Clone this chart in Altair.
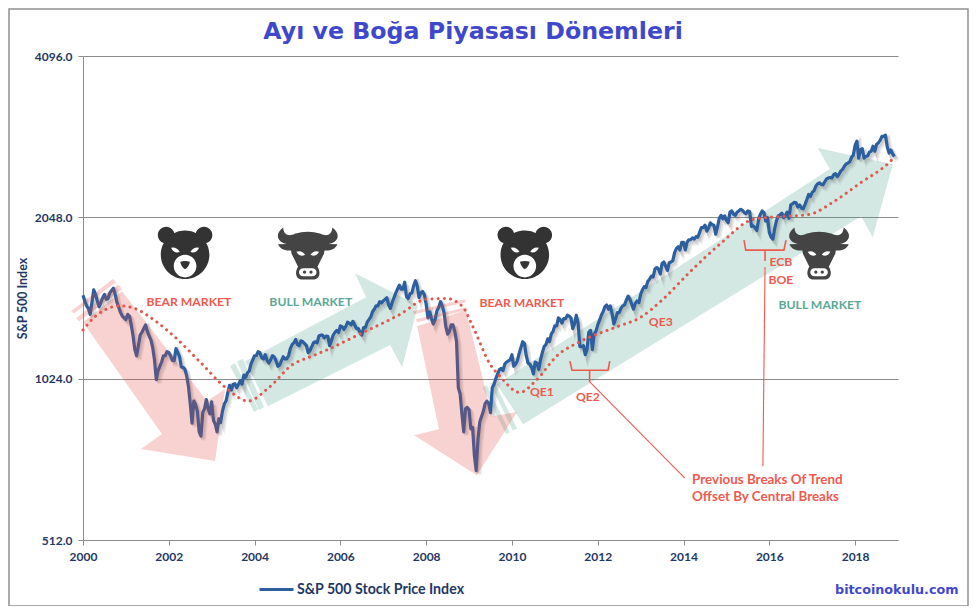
import altair as alt
import pandas as pd

TITLE = "Ayı ve Boğa Piyasası Dönemleri"
NAVY = "#1f3864"
RED = "#ee5a4f"
GREEN = "#5ba896"
BLUE = "#2d5f9f"
GRID = "#8c8c8c"
PURPLE = "#3f48cc"

# S&P 500, two readings a month, one list per year
p2000 = [1465,1430,1400,1385,1350,1420,1500,1470,1430,1395,1420,1450,1470,1440,1445,1480,1495,1510,1470,1420,1390,1360,1340,1330]
p2001 = [1320,1350,1340,1290,1230,1160,1130,1180,1235,1250,1270,1290,1255,1230,1210,1170,1110,1020,1060,1080,1100,1130,1130,1150]
p2002 = [1146,1130,1107,1106,1165,1147,1126,1077,1074,1067,1036,990,920,846,930,916,890,815,800,885,900,936,900,880]
p2003 = [927,856,842,815,862,848,890,917,930,963,995,975,1000,1002,985,1000,1015,1000,1040,1030,1050,1058,1090,1110]
p2004 = [1130,1131,1150,1145,1120,1115,1135,1108,1095,1110,1130,1125,1105,1080,1085,1105,1125,1115,1115,1130,1165,1185,1195,1212]
p2005 = [1185,1180,1205,1200,1190,1180,1145,1155,1175,1195,1200,1195,1230,1235,1235,1220,1230,1228,1180,1205,1235,1250,1260,1248]
p2006 = [1285,1280,1265,1280,1305,1300,1290,1310,1290,1270,1270,1250,1235,1275,1275,1305,1320,1335,1365,1380,1400,1400,1425,1418]
p2007 = [1430,1440,1450,1405,1385,1420,1450,1480,1505,1530,1505,1505,1550,1455,1445,1475,1480,1525,1560,1525,1450,1480,1490,1468]
p2008 = [1410,1330,1365,1325,1295,1320,1370,1390,1425,1400,1360,1280,1240,1255,1290,1290,1255,1200,985,960,880,815,900,905]
p2009 = [895,825,830,735,690,790,850,870,890,920,930,920,885,985,1000,1025,1045,1065,1070,1060,1090,1100,1105,1110]
p2010 = [1135,1080,1090,1105,1140,1170,1200,1190,1130,1095,1090,1075,1045,1100,1095,1065,1110,1145,1175,1185,1215,1200,1240,1255]
p2011 = [1285,1285,1330,1320,1300,1325,1325,1345,1340,1330,1270,1295,1345,1300,1175,1175,1180,1135,1160,1250,1260,1160,1240,1255]
p2012 = [1290,1315,1345,1365,1395,1405,1380,1400,1355,1295,1325,1360,1360,1385,1400,1405,1435,1460,1440,1410,1380,1415,1430,1420]
p2013 = [1470,1500,1520,1515,1555,1570,1590,1585,1640,1650,1640,1605,1680,1690,1660,1630,1685,1690,1700,1760,1790,1805,1780,1840]
p2014 = [1840,1780,1840,1860,1860,1875,1865,1885,1880,1920,1960,1960,1980,1930,1955,2000,1985,1980,1905,1965,2040,2065,2035,2060]
p2015 = [2020,2000,2095,2105,2075,2065,2095,2105,2120,2110,2090,2080,2105,2100,1970,1975,1960,1935,2030,2075,2105,2090,2015,2045]
p2016 = [1920,1880,1865,1950,2020,2060,2070,2085,2045,2065,2095,2040,2160,2170,2185,2180,2140,2160,2130,2125,2165,2210,2260,2240]
p2017 = [2280,2295,2340,2365,2375,2360,2355,2385,2415,2425,2430,2425,2460,2470,2440,2465,2500,2515,2550,2575,2585,2600,2650,2675]
p2018 = [2790,2840,2640,2740,2750,2640,2660,2665,2710,2720,2780,2720,2800,2820,2850,2900,2900,2915,2770,2700,2735,2690,2660]
price_years = [p2000,p2001,p2002,p2003,p2004,p2005,p2006,p2007,p2008,p2009,p2010,p2011,p2012,p2013,p2014,p2015,p2016,p2017,p2018]

ma_x = [2000.0,2000.25,2000.5,2000.86,2001.2,2001.7,2002.14,2002.73,2003.36,2003.85,2004.3,2004.9,2005.3,2005.7,2006.45,2007.39,2008.0,2008.47,2008.85,2009.09,2009.49,2009.72,2010.18,2010.58,2011.05,2011.58,2012.45,2012.98,2013.52,2014.15,2014.85,2015.62,2016.08,2016.94,2017.48,2018.11,2018.81,2018.93]
ma_y = [1262,1330,1375,1400,1385,1310,1225,1100,980,930,980,1090,1125,1160,1240,1350,1440,1445,1395,1280,1090,1035,965,1020,1130,1200,1280,1330,1440,1620,1825,2030,2050,2075,2185,2370,2600,2660]

# Arrow outlines (year, index level)
bear_arrows = {
    "bear1": [(2000.0,1305),(2000.91,1491),(2002.89,930),(2003.31,979),(2003.08,719),(2001.35,757),(2001.84,807)],
    "bear1s1": [(1999.72,1368),(2000.70,1571),(2000.77,1550),(1999.79,1357)],
    "bear1s2": [(1999.84,1328),(2000.82,1537),(2000.91,1504),(1999.91,1311)],
    "bear2": [(2007.79,1283),(2008.93,1375),(2009.53,871),(2010.12,887),(2009.18,676),(2007.72,803),(2008.30,824)],
    "bear2s1": [(2007.69,1368),(2008.90,1441),(2008.93,1422),(2007.72,1351)],
    "bear2s2": [(2007.76,1322),(2008.93,1392),(2008.95,1375),(2007.79,1305)],
}
bull_arrows = {
    "bull1": [(2003.78,1104),(2006.60,1453),(2006.34,1611),(2007.81,1404),(2007.44,1075),(2007.16,1183),(2004.31,910)],
    "bull1s1": [(2003.43,1080),(2003.54,1095),(2004.08,898),(2003.99,887)],
    "bull1s2": [(2003.59,1104),(2003.73,1114),(2004.22,906),(2004.10,895)],
    "bull2": [(2009.65,1000),(2017.41,2520),(2017.13,2758),(2018.88,2574),(2018.41,1881),(2018.14,2058),(2010.26,842)],
    "bull2s1": [(2009.32,987),(2009.41,996),(2009.95,813),(2009.86,807)],
    "bull2s2": [(2009.49,1004),(2009.58,1013),(2010.12,827),(2010.02,820)],
}
braces = {
    "qe2_brace": [(2011.35,1104),(2011.40,1062),(2012.24,1062),(2012.28,1104)],
    "qe2_stem": [(2011.81,1062),(2011.81,1009)],
    "ecb_brace": [(2015.41,1857),(2015.45,1779),(2016.34,1779),(2016.39,1857)],
    "ecb_stem": [(2015.90,1779),(2015.90,1697)],
}
leaders = {
    "qe2_lead": [(2011.82,1009),(2014.03,668)],
    "ecb_lead": [(2015.90,1654),(2015.85,703)],
}

red_center = [("BEAR MARKET",2002.47,1422),("BEAR MARKET",2010.23,1416),("QE1",2010.70,966),("QE2",2011.77,945),("QE3",2013.47,1305),("ECB",2016.27,1689),("BOE",2016.27,1564)]
green_center = [("BULL MARKET",2005.31,1422),("BULL MARKET",2017.18,1404)]
red_left = [("Previous Breaks Of Trend",2014.20,663),("Offset By Central Breaks",2014.20,615)]
bear_icons = [(2002.38,1756),(2010.30,1756)]
bull_icons = [(2005.24,1756),(2017.16,1756)]

def circ(cx, cy, r):
    k = 0.5523 * r
    return (f"M{cx-r},{cy}C{cx-r},{cy-k} {cx-k},{cy-r} {cx},{cy-r}"
            f"C{cx+k},{cy-r} {cx+r},{cy-k} {cx+r},{cy}"
            f"C{cx+r},{cy+k} {cx+k},{cy+r} {cx},{cy+r}"
            f"C{cx-k},{cy+r} {cx-r},{cy+k} {cx-r},{cy}Z")

BEAR_HEAD = circ(0, 0.06, 0.9) + circ(-0.7, -0.67, 0.31) + circ(0.7, -0.67, 0.31)
BEAR_WHITE = (circ(0, 0.48, 0.42)
              + "M-.52,-.2Q-.3,-.24-.2,-.04Q-.42,.02-.52,-.2Z"
              + "M.52,-.2Q.3,-.24.2,-.04Q.42,.02.52,-.2Z")
BEAR_NOSE = "M-.18,.32Q0,.26.18,.32Q.14,.52 0,.6Q-.14,.52-.18,.32Z"
BULL_HEAD = ("M-.91,-.95C-1.22,-.72-1.16,-.42-.78,-.34L-1.1,-.33C-1.0,-.12-.8,-.08-.62,-.1"
             "L-.6,.02L-.36,.5C-.5,.72-.44,.98-.2,.98L.2,.98C.44,.98 .5,.72 .36,.5L.6,.02L.62,-.1"
             "C.8,-.08 1.0,-.12 1.1,-.33L.78,-.34C1.16,-.42 1.22,-.72 .91,-.95"
             "C.9,-.68 .7,-.6 .48,-.72Q0,-.86-.48,-.72C-.7,-.6-.9,-.68-.91,-.95Z")
BULL_WHITE = ("M-.42,-.05Q-.22,-.12-.1,.06Q-.3,.16-.42,-.05Z"
              "M.42,-.05Q.22,-.12.1,.06Q.3,.16.42,-.05Z"
              "M-.16,.56L.16,.56C.38,.56 .38,.86 .16,.86L-.16,.86C-.38,.86-.38,.56-.16,.56Z")
BULL_NOSTRILS = circ(-.12, .7, .06) + circ(.12, .7, .06)

price_rows = []
for yi, vals in enumerate(price_years):
    for hi, v in enumerate(vals):
        price_rows.append({"x": 2000 + yi + hi / 24, "y": v, "series": "S&P 500 Stock Price Index"})
prices = pd.DataFrame(price_rows)
ma = pd.DataFrame({"x": ma_x, "y": ma_y})

def outlines(d):
    return pd.DataFrame([{"name": k, "i": i, "x": p[0], "y": p[1]} for k, pts in d.items() for i, p in enumerate(pts)])

def labels(rows):
    return pd.DataFrame(rows, columns=["t", "x", "y"])

def points(rows):
    return pd.DataFrame(rows, columns=["x", "y"])

xs = alt.Scale(domain=[2000, 2019], nice=False, zero=False)
ys = alt.Scale(type="log", base=2, domain=[512, 4096], nice=False, zero=False)
X = alt.X("x:Q", scale=xs)
Y = alt.Y("y:Q", scale=ys)

X_AXIS = alt.X("x:Q", scale=xs, title=None, axis=alt.Axis(
    values=list(range(2000, 2020, 2)), format="d", grid=False, tickSize=5, tickColor=GRID,
    domainColor=GRID, labelColor=NAVY, labelFont="Lato", labelFontWeight="bold", labelFontSize=12,
    labelPadding=6, labelFlush=False, labelOverlap=False))
Y_AXIS = alt.Y("y:Q", scale=ys, title="S&P 500 Index", axis=alt.Axis(
    values=[512, 1024, 2048, 4096], format=".1f", grid=True, gridColor=GRID, gridOpacity=1, tickSize=5,
    tickColor=GRID, domainColor=GRID, labelColor=NAVY, labelFont="Lato", labelFontWeight="bold",
    labelFontSize=12, labelPadding=6, titleColor=NAVY, titleFont="Lato", titleFontWeight="bold",
    titleFontSize=12.4, titleX=-54, labelOverlap=False, labelFlush=False))

teal = alt.Chart(outlines(bull_arrows)).mark_line(
    fill="#379680", fillOpacity=0.22, strokeWidth=0, interpolate="linear-closed"
).encode(x=X_AXIS, y=Y_AXIS, order="i:Q", detail="name:N")

shadow1 = alt.Chart(prices).mark_line(color="#555555", opacity=0.08, strokeWidth=5, xOffset=3, yOffset=4).encode(x=X, y=Y)
shadow2 = alt.Chart(prices).mark_line(color="#555555", opacity=0.12, strokeWidth=4, xOffset=2.5, yOffset=3).encode(x=X, y=Y)
shadow3 = alt.Chart(prices).mark_line(color="#555555", opacity=0.14, strokeWidth=3, xOffset=1.5, yOffset=2).encode(x=X, y=Y)

price_line = alt.Chart(prices).mark_line(strokeWidth=3.2, strokeJoin="round").encode(
    x=X, y=Y,
    color=alt.Color("series:N", scale=alt.Scale(range=[BLUE]), legend=alt.Legend(
        title=None, orient="none", legendX=175, legendY=515, symbolType="stroke", symbolSize=1156,
        symbolStrokeWidth=3, labelFont="Lato", labelFontWeight="bold", labelFontSize=14.2, labelColor=NAVY,
        labelLimit=300, labelOffset=2)))

pink = alt.Chart(outlines(bear_arrows)).mark_line(
    fill="#e3433b", fillOpacity=0.24, strokeWidth=0, interpolate="linear-closed"
).encode(x=X, y=Y, order="i:Q", detail="name:N")

ma_line = alt.Chart(ma).mark_line(
    color="#e0594e", strokeWidth=3, strokeCap="round", strokeDash=[0.1, 6.1], interpolate="monotone"
).encode(x=X, y=Y)

brace_lines = alt.Chart(outlines(braces)).mark_line(color=RED, strokeWidth=1.6).encode(x=X, y=Y, order="i:Q", detail="name:N")
lead_lines = alt.Chart(outlines(leaders)).mark_line(color=RED, strokeWidth=1.1).encode(x=X, y=Y, order="i:Q", detail="name:N")

def text_layer(rows, color, align="center", size=12.2):
    return alt.Chart(labels(rows)).mark_text(
        font="Lato", fontWeight="bold", fontSize=size, color=color, align=align, baseline="middle"
    ).encode(x=X, y=Y, text="t:N")

def icon(rows, path, color):
    return alt.Chart(points(rows)).mark_point(
        shape=path, size=2916, filled=True, fill=color, opacity=1, strokeWidth=0
    ).encode(x=X, y=Y)

def page_text(s, px, py, font, size, color, align="left"):
    return alt.Chart(pd.DataFrame({"t": [s]})).mark_text(
        font=font, fontWeight="bold", fontSize=size, color=color, align=align, baseline="middle"
    ).encode(x=alt.value(px), y=alt.value(py), text="t:N")

one = pd.DataFrame({"a": [0]})
frame = alt.Chart(one).mark_rect(fill="transparent", stroke="#909090", strokeWidth=1.5).encode(
    x=alt.value(-74), x2=alt.value(885), y=alt.value(-47), y2=alt.value(550))
site = page_text("bitcoinokulu.com", 752, 534, "DejaVu Sans", 12.75, PURPLE)
title = page_text(TITLE, 390, -24, "DejaVu Sans", 23.7, PURPLE, "center")

chart = alt.layer(
    teal, shadow1, shadow2, shadow3, price_line, pink, ma_line, brace_lines, lead_lines,
    text_layer(red_center, RED), text_layer(green_center, GREEN), text_layer(red_left, RED, "left", 13.4),
    icon(bear_icons, BEAR_HEAD, "#333333"), icon(bear_icons, BEAR_WHITE, "#ffffff"), icon(bear_icons, BEAR_NOSE, "#333333"),
    icon(bull_icons, BULL_HEAD, "#444444"), icon(bull_icons, BULL_WHITE, "#ffffff"), icon(bull_icons, BULL_NOSTRILS, "#444444"),
    frame, site, title,
).properties(
    width=815, height=484,
    autosize=alt.AutoSizeParams(type="none"),
    padding={"left": 75, "top": 48, "right": 72, "bottom": 66},
).configure_view(stroke=None).resolve_scale(color="independent")

chart.save("out.html", embed_options={"renderer": "svg", "actions": False})
